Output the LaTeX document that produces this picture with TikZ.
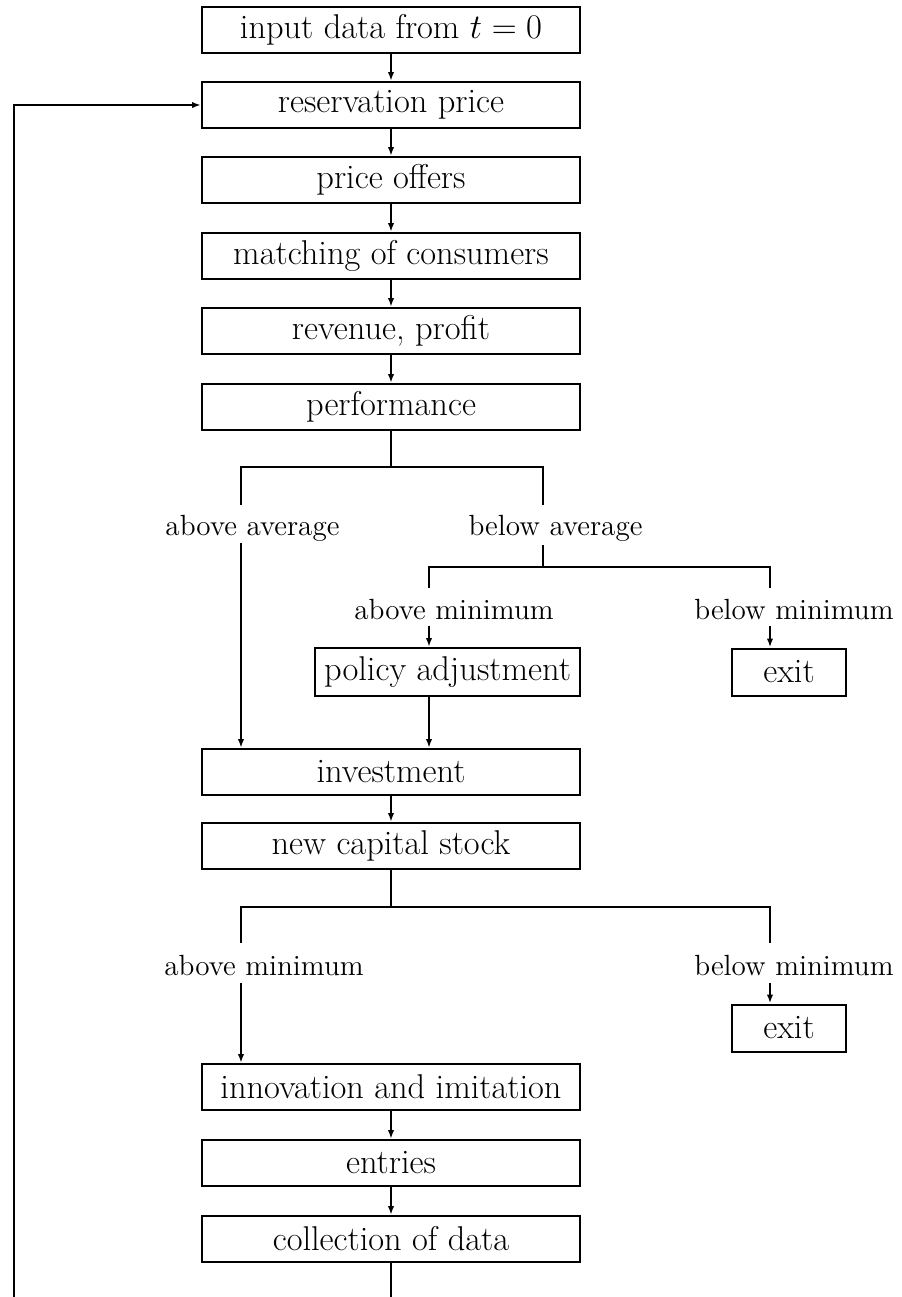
\documentclass[tikz,border=0pt]{standalone}
\usetikzlibrary{arrows.meta}
\newcommand\boxfont{\fontsize{17.2}{20}\selectfont}
\newcommand\labfont{\fontsize{14.6}{17}\selectfont}
\begin{document}
\begin{tikzpicture}[x=0.5pt,y=-0.5pt,
  line width=1pt,
  stepbox/.style={draw, line width=1pt, minimum width=189pt, minimum height=23pt, inner sep=0pt, font=\boxfont},
  polbox/.style={draw, line width=1pt, minimum width=132.5pt, minimum height=24pt, inner sep=0pt, font=\boxfont},
  exitbox/.style={draw, line width=1pt, minimum width=57pt, minimum height=23.5pt, inner sep=0pt, font=\boxfont},
  lab/.style={anchor=base, inner sep=0pt, font=\labfont},
  arr/.style={-{Latex[length=4.5pt,width=3.2pt]}}]
\useasboundingbox (0,0) rectangle (901,1297);

% main boxes
\node[stepbox] (in)   at (391,30)   {input data from $t=0$};
\node[stepbox] (res)  at (391,105)  {reservation price};
\node[stepbox] (off)  at (391,180)  {price offers};
\node[stepbox] (mat)  at (391,256)  {matching of consumers};
\node[stepbox] (rev)  at (391,331)  {revenue, profit};
\node[stepbox] (perf) at (391,407)  {performance};
\node[polbox]  (pol)  at (447.5,672) {policy adjustment};
\node[exitbox] (ex1)  at (789,672)  {exit};
\node[stepbox] (inv)  at (391,772)  {investment};
\node[stepbox] (cap)  at (391,846)  {new capital stock};
\node[exitbox] (ex2)  at (789,1028) {exit};
\node[stepbox] (inn)  at (391,1087) {innovation and imitation};
\node[stepbox] (ent)  at (391,1163) {entries};
\node[stepbox] (col)  at (391,1239) {collection of data};

% labels
\node[lab] (aa)  at (252.5,535) {above average};
\node[lab] (ba)  at (555.5,535) {below average};
\node[lab] (am1) at (454,619)   {above minimum};
\node[lab] (bm1) at (794,619)   {below minimum};
\node[lab] (am2) at (264,975)   {above minimum};
\node[lab] (bm2) at (794,975)   {below minimum};

% straight arrows
\draw[arr] (in) -- (res);
\draw[arr] (res) -- (off);
\draw[arr] (off) -- (mat);
\draw[arr] (mat) -- (rev);
\draw[arr] (rev) -- (perf);
\draw[arr] (inv) -- (cap);
\draw[arr] (inn) -- (ent);
\draw[arr] (ent) -- (col);

% first branch
\coordinate (b1l) at (241,467);
\coordinate (b1r) at (543,467);
\coordinate (aaT) at (241,505);
\coordinate (baT) at (543,505);
\coordinate (aaB) at (241,543);
\coordinate (baB) at (543,545);
\draw (perf.south) -- (perf.south |- b1l);
\draw (aaT) -- (b1l) -- (b1r) -- (baT);
\draw[arr] (aaB) -- (aaB |- inv.north);

% second branch
\coordinate (b2l) at (429,567);
\coordinate (b2r) at (770,567);
\coordinate (amT) at (429,588);
\coordinate (bmT) at (770,588);
\coordinate (amB) at (429,626);
\coordinate (bmB) at (770,626);
\draw (baB) -- (baB |- b2l);
\draw (amT) -- (b2l) -- (b2r) -- (bmT);
\draw[arr] (amB) -- (amB |- pol.north);
\draw[arr] (bmB) -- (bmB |- ex1.north);
\draw[arr] (amB |- pol.south) -- (amB |- inv.north);

% third branch
\coordinate (b3l) at (241,907);
\coordinate (b3r) at (770,907);
\coordinate (am2T) at (241,943);
\coordinate (bm2T) at (770,943);
\coordinate (am2B) at (241,983);
\coordinate (bm2B) at (770,983);
\draw (cap.south) -- (cap.south |- b3l);
\draw (am2T) -- (b3l) -- (b3r) -- (bm2T);
\draw[arr] (am2B) -- (am2B |- inn.north);
\draw[arr] (bm2B) -- (bm2B |- ex2.north);

% feedback loop
\coordinate (cb) at (391,1297);
\coordinate (fb) at (14,1297);
\draw (col.south) -- (cb);
\draw[arr] (fb) |- (res.west);
\end{tikzpicture}
\end{document}
